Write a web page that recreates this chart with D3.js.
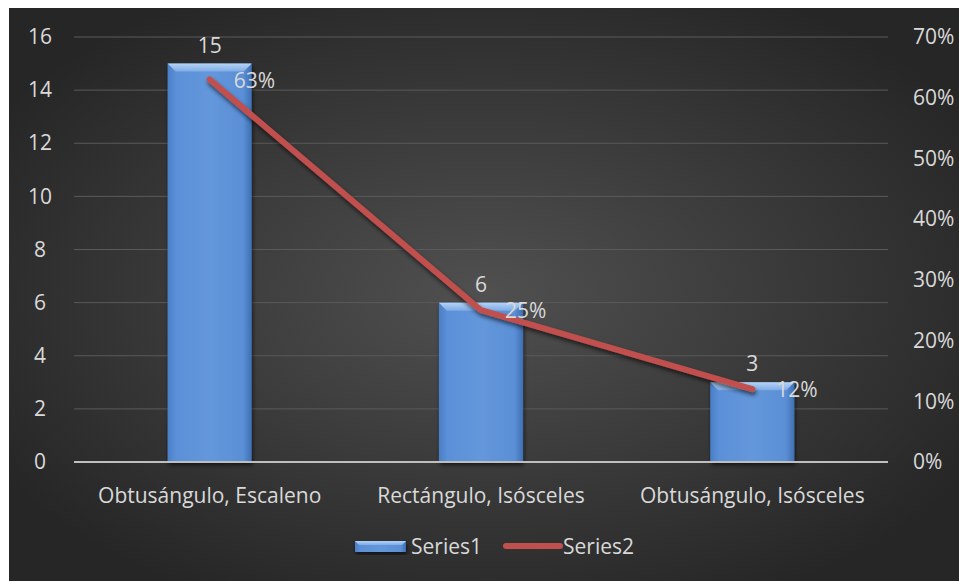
<!DOCTYPE html>
<html><head><meta charset="utf-8">
<script src="https://cdn.jsdelivr.net/npm/d3@7"></script>
<style>body{margin:0;background:#fff}svg{display:block}</style>
</head><body>
<svg id="c" width="959" height="581"></svg>
<script>
const categories = ["Obtusángulo, Escaleno", "Rectángulo, Isósceles", "Obtusángulo, Isósceles"];
const series1 = [15, 6, 3];
const series2 = [0.63, 0.25, 0.12];
const leftTicks = [0, 2, 4, 6, 8, 10, 12, 14, 16];
const rightTicks = [0, 0.1, 0.2, 0.3, 0.4, 0.5, 0.6, 0.7];
const seriesNames = ["Series1", "Series2"];

(function(){
const svg = d3.select("#c");
const W = 959, H = 581;
const font = "'Open Sans', 'Noto Sans', sans-serif";
const fs = "21px";
const txt = "#d9d9d9";
const defs = svg.append("defs");
const bg = defs.append("radialGradient").attr("id","bg").attr("cx","50%").attr("cy","50%").attr("r","60%");
bg.append("stop").attr("offset","0%").attr("stop-color","#505050");
bg.append("stop").attr("offset","100%").attr("stop-color","#262626");
const barG = defs.append("linearGradient").attr("id","bar").attr("x1","0").attr("x2","1").attr("y1","0").attr("y2","0");
barG.append("stop").attr("offset","0%").attr("stop-color","#4a7fc6");
barG.append("stop").attr("offset","10%").attr("stop-color","#5b90d8");
barG.append("stop").attr("offset","50%").attr("stop-color","#6497db");
barG.append("stop").attr("offset","90%").attr("stop-color","#5a8fd6");
barG.append("stop").attr("offset","100%").attr("stop-color","#3f6fb0");
const topG = defs.append("linearGradient").attr("id","topg").attr("x1","0").attr("x2","0").attr("y1","0").attr("y2","1");
topG.append("stop").attr("offset","0%").attr("stop-color","#b5d3f5");
topG.append("stop").attr("offset","100%").attr("stop-color","#7eabe6");
const sh = defs.append("filter").attr("id","sh").attr("x","-20%").attr("y","-20%").attr("width","140%").attr("height","140%");
sh.append("feDropShadow").attr("dx",1).attr("dy",3).attr("stdDeviation",2).attr("flood-color","#000").attr("flood-opacity",0.6);

svg.append("rect").attr("x",9).attr("y",8).attr("width",W-9).attr("height",H-8).attr("fill","url(#bg)");

const left = 74, right = 888, topY = 37, bottom = 462;
const x = d3.scaleBand().domain(categories).range([left, right]);
const y = d3.scaleLinear().domain([0, 16]).range([bottom, topY]);
const y2 = d3.scaleLinear().domain([0, 0.7]).range([bottom, topY]);

svg.append("g").selectAll("line").data(leftTicks.filter(d=>d>0)).join("line")
  .attr("x1",left).attr("x2",right).attr("y1",d=>y(d)).attr("y2",d=>y(d))
  .attr("stroke","#5a5a5a").attr("stroke-width",1);

const ga = svg.append("g").attr("transform",`translate(${left},0)`)
  .call(d3.axisLeft(y).tickValues(leftTicks).tickSize(0).tickPadding(22));
ga.select(".domain").remove();
ga.selectAll("text").attr("fill",txt).style("font-family",font).style("font-size",fs).attr("text-anchor","middle").attr("dx","-12");

const gr = svg.append("g").attr("transform",`translate(${right},0)`)
  .call(d3.axisRight(y2).tickValues(rightTicks).tickFormat(d3.format(".0%")).tickSize(0).tickPadding(25));
gr.select(".domain").remove();
gr.selectAll("text").attr("fill",txt).style("font-family",font).style("font-size",fs);

const bw = x.bandwidth()*0.31;
const bg2 = svg.append("g").selectAll("g").data(series1).join("g").attr("filter","url(#sh)");
bg2.append("rect").attr("x",(d,i)=>x(categories[i])+x.bandwidth()/2-bw/2).attr("y",d=>y(d))
  .attr("width",bw).attr("height",d=>bottom-y(d)).attr("fill","url(#bar)");
bg2.append("path").attr("d",(d,i)=>{const x0=x(categories[i])+x.bandwidth()/2-bw/2, y0=y(d), b=8;
  return `M${x0},${y0}L${x0+bw},${y0}L${x0+bw-b},${y0+b}L${x0+b},${y0+b}Z`;}).attr("fill","url(#topg)");

svg.append("line").attr("x1",left).attr("x2",right).attr("y1",bottom).attr("y2",bottom)
  .attr("stroke","#bfbfbf").attr("stroke-width",2);

svg.append("g").selectAll("text").data(categories).join("text")
  .attr("x",d=>x(d)+x.bandwidth()/2).attr("y",503).attr("text-anchor","middle")
  .attr("fill",txt).style("font-family",font).style("font-size",fs).text(d=>d);

const line = d3.line().x((d,i)=>x(categories[i])+x.bandwidth()/2).y(d=>y2(d));
svg.append("path").datum(series2).attr("d",line).attr("fill","none").attr("stroke","#c0504d")
  .attr("stroke-width",6).attr("stroke-linecap","round").attr("stroke-linejoin","round").attr("filter","url(#sh)");

svg.append("g").selectAll("text").data(series1).join("text")
  .attr("x",(d,i)=>x(categories[i])+x.bandwidth()/2).attr("y",d=>y(d)-11).attr("text-anchor","middle")
  .attr("fill",txt).style("font-family",font).style("font-size",fs).text(d=>d);
svg.append("g").selectAll("text").data(series2).join("text")
  .attr("x",(d,i)=>x(categories[i])+x.bandwidth()/2+24).attr("y",d=>y2(d)+8)
  .attr("fill",txt).style("font-family",font).style("font-size",fs).text(d=>d3.format(".0%")(d));

const lg = svg.append("g");
lg.append("rect").attr("x",355).attr("y",541).attr("width",51).attr("height",11).attr("fill","url(#bar)").attr("filter","url(#sh)");
lg.append("path").attr("d","M355,541L406,541L402,545L359,545Z").attr("fill","url(#topg)");
lg.append("text").attr("x",411).attr("y",554).attr("fill",txt).style("font-family",font).style("font-size",fs).text(seriesNames[0]);
lg.append("line").attr("x1",506).attr("x2",560).attr("y1",546).attr("y2",546).attr("stroke","#c0504d").attr("stroke-width",6).attr("stroke-linecap","round");
lg.append("text").attr("x",563).attr("y",554).attr("fill",txt).style("font-family",font).style("font-size",fs).text(seriesNames[1]);
})();
</script>
</body></html>
